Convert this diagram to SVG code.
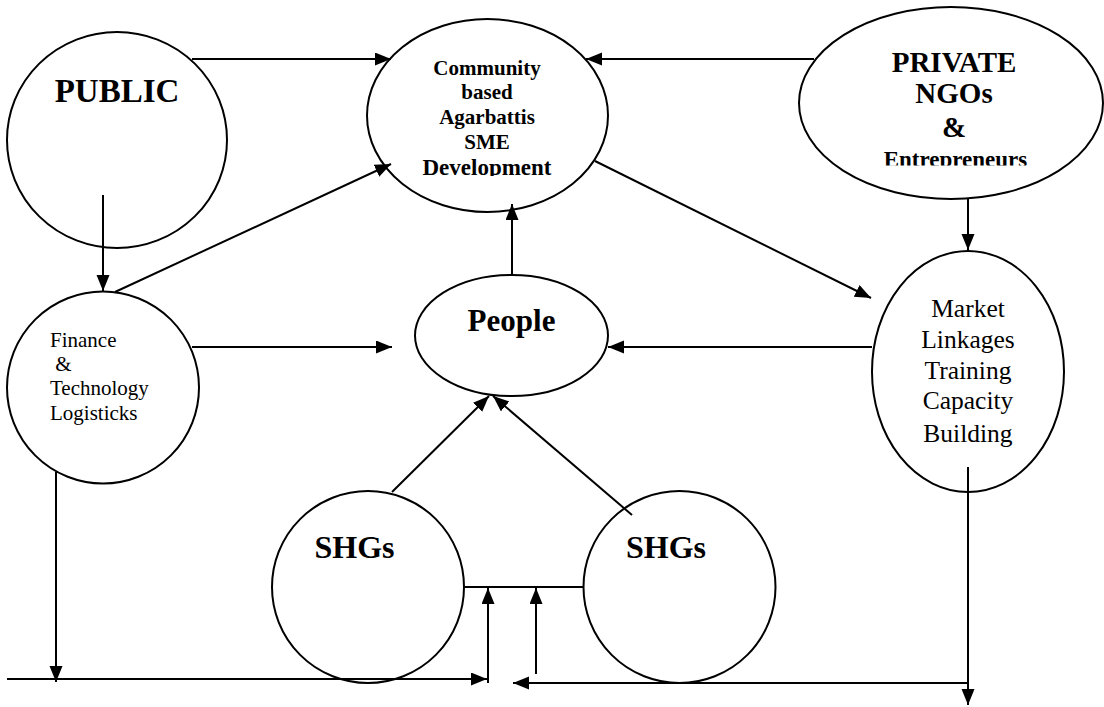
<svg xmlns="http://www.w3.org/2000/svg" width="1104" height="707" viewBox="0 0 1104 707">
<defs>
<style>
.n{fill:#fff;stroke:#000;stroke-width:2}
.c{fill:none;stroke:#000;stroke-width:2}
.a{marker-end:url(#ah)}
.b{font-family:"Liberation Serif","Times New Roman",serif;font-weight:bold;fill:#000;text-anchor:middle}
.r{font-family:"Liberation Serif","Times New Roman",serif;fill:#000}
</style>
<marker id="ah" markerUnits="userSpaceOnUse" markerWidth="17" markerHeight="14" refX="16" refY="6.5" orient="auto">
<path d="M0,0 L16,6.5 L0,13 z" fill="#000"/>
</marker>
<clipPath id="clipComm"><rect x="360" y="20" width="250" height="156"/></clipPath>
<clipPath id="clipPriv"><rect x="800" y="8" width="300" height="157.5"/></clipPath>
</defs>
<rect width="1104" height="707" fill="#fff"/>

<g id="public">
<ellipse class="n" cx="117" cy="140" rx="110" ry="108"/>
<text class="b" x="117" y="102" font-size="33">PUBLIC</text>
</g>

<g id="community">
<ellipse class="n" cx="487.5" cy="115.5" rx="120.5" ry="96.5"/>
<g clip-path="url(#clipComm)">
<text class="b" x="487" y="75" font-size="21">Community</text>
<text class="b" x="487" y="99" font-size="21">based</text>
<text class="b" x="487" y="124" font-size="21">Agarbattis</text>
<text class="b" x="487" y="149" font-size="21">SME</text>
<text class="b" x="487" y="175" font-size="23">Development</text>
</g>
</g>

<g id="private">
<ellipse class="n" cx="951" cy="103" rx="152" ry="96"/>
<g clip-path="url(#clipPriv)">
<text class="b" x="954" y="72" font-size="29">PRIVATE</text>
<text class="b" x="954" y="103" font-size="29">NGOs</text>
<text class="b" x="954" y="137" font-size="29">&amp;</text>
<text class="b" x="955.5" y="167" font-size="23">Entrepreneurs</text>
</g>
</g>

<g id="finance">
<ellipse class="n" cx="103" cy="387.5" rx="96" ry="96"/>
<text class="r" x="50" y="347" font-size="21">Finance</text>
<text class="r" x="50" y="371" font-size="21" xml:space="preserve"> &amp;</text>
<text class="r" x="50" y="395" font-size="21">Technology</text>
<text class="r" x="50" y="420" font-size="21">Logisticks</text>
</g>

<g id="people">
<ellipse class="n" cx="511.5" cy="335.5" rx="96.5" ry="60.5"/>
<text class="b" x="511.5" y="331" font-size="31">People</text>
</g>

<g id="market">
<ellipse class="n" cx="968" cy="371.5" rx="96" ry="120.5"/>
<g class="r" text-anchor="middle" font-size="25.5">
<text x="968" y="317">Market</text>
<text x="968" y="348">Linkages</text>
<text x="968" y="379">Training</text>
<text x="968" y="409">Capacity</text>
<text x="968" y="442">Building</text>
</g>
</g>

<g id="shg1">
<circle class="n" cx="368" cy="587" r="96"/>
<text class="b" x="354.5" y="558" font-size="32">SHGs</text>
</g>

<g id="shg2">
<circle class="n" cx="679.5" cy="587" r="96"/>
<text class="b" x="666" y="558" font-size="32">SHGs</text>
</g>

<g id="connectors">
<line class="c a" x1="192" y1="59" x2="391" y2="59"/>
<line class="c a" x1="814" y1="59" x2="586" y2="59"/>
<line class="c a" x1="103" y1="195" x2="103" y2="291"/>
<line class="c a" x1="115" y1="292" x2="391" y2="164"/>
<line class="c a" x1="192" y1="347" x2="392" y2="347"/>
<line class="c a" x1="512" y1="275" x2="512" y2="204"/>
<line class="c a" x1="595" y1="161" x2="871" y2="298"/>
<line class="c a" x1="968" y1="199" x2="968" y2="250"/>
<line class="c a" x1="872" y1="347" x2="608" y2="347"/>
<line class="c a" x1="392" y1="492" x2="489" y2="396"/>
<line class="c a" x1="632" y1="515" x2="493" y2="396"/>
<line class="c" x1="464" y1="587" x2="583" y2="587"/>
<line class="c a" x1="56" y1="472" x2="56" y2="682"/>
<line class="c a" x1="7" y1="679" x2="487" y2="679"/>
<line class="c a" x1="488" y1="683" x2="488" y2="588"/>
<line class="c a" x1="536" y1="674" x2="536" y2="588"/>
<line class="c a" x1="968" y1="467" x2="968" y2="705"/>
<line class="c a" x1="968" y1="683" x2="513" y2="683"/>
</g>
</svg>
